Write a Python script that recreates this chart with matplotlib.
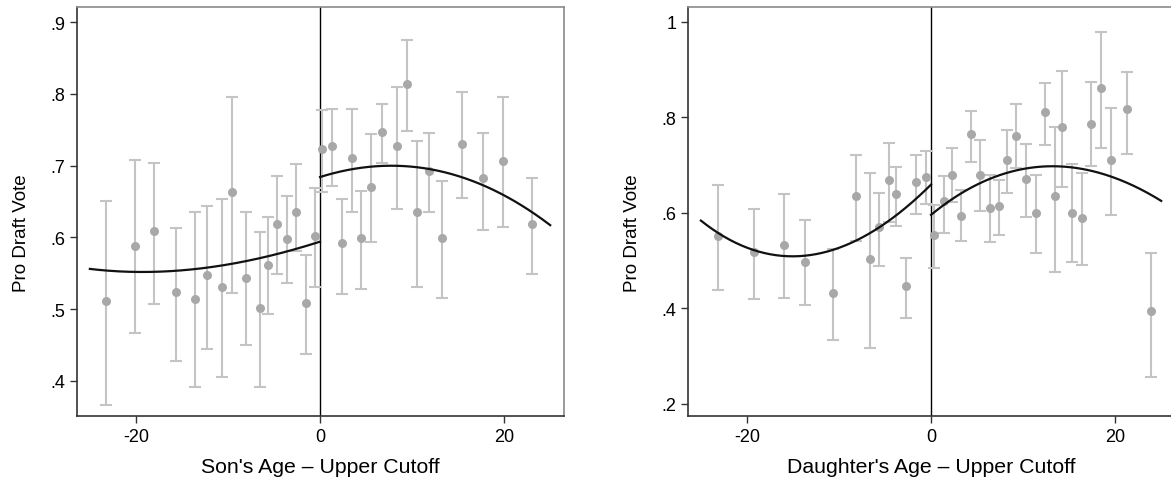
import matplotlib
matplotlib.use("Agg")
import matplotlib.pyplot as plt
import numpy as np

# Hijos: edad relativa al corte, voto medio e intervalo
edad_hijo = [-23.2, -20.1, -18.0, -15.65, -13.55, -12.28, -10.7, -9.6, -8.04, -6.5, -5.7,
             -4.7, -3.6, -2.6, -1.56, -0.54, 0.25, 1.34, 2.36, 3.44, 4.46, 5.51, 6.78,
             8.4, 9.42, 10.5, 11.8, 13.3, 15.4, 17.75, 19.85, 23.0]
voto_hijo = [0.511, 0.588, 0.609, 0.524, 0.514, 0.548, 0.531, 0.663, 0.544, 0.501, 0.562,
             0.619, 0.598, 0.636, 0.508, 0.602, 0.723, 0.727, 0.592, 0.710, 0.599, 0.670,
             0.747, 0.727, 0.814, 0.636, 0.693, 0.599, 0.730, 0.683, 0.706, 0.619]
inf_hijo = [0.366, 0.467, 0.507, 0.428, 0.392, 0.444, 0.406, 0.523, 0.450, 0.391, 0.493,
            0.549, 0.536, 0.581, 0.437, 0.531, 0.663, 0.672, 0.521, 0.635, 0.528, 0.593,
            0.704, 0.639, 0.748, 0.531, 0.636, 0.516, 0.655, 0.610, 0.615, 0.549]
sup_hijo = [0.651, 0.708, 0.704, 0.613, 0.636, 0.644, 0.654, 0.796, 0.636, 0.607, 0.628,
            0.686, 0.658, 0.702, 0.576, 0.669, 0.777, 0.779, 0.654, 0.779, 0.665, 0.744,
            0.786, 0.810, 0.875, 0.734, 0.745, 0.679, 0.802, 0.746, 0.796, 0.683]

# Hijas
edad_hija = [-23.1, -19.2, -16.0, -13.7, -10.6, -8.2, -6.6, -5.6, -4.56, -3.76, -2.68, -1.66,
             -0.58, 0.37, 1.41, 2.25, 3.26, 4.32, 5.37, 6.42, 7.43, 8.23, 9.28, 10.3, 11.35,
             12.4, 13.45, 14.25, 15.3, 16.35, 17.4, 18.45, 19.5, 21.3, 23.9]
voto_hija = [0.552, 0.517, 0.532, 0.497, 0.432, 0.634, 0.503, 0.569, 0.668, 0.639, 0.447, 0.664,
             0.674, 0.553, 0.625, 0.680, 0.594, 0.765, 0.680, 0.609, 0.614, 0.710, 0.760, 0.670,
             0.599, 0.811, 0.634, 0.780, 0.599, 0.589, 0.786, 0.861, 0.710, 0.817, 0.393]
inf_hija = [0.438, 0.419, 0.421, 0.407, 0.334, 0.540, 0.317, 0.489, 0.580, 0.573, 0.379, 0.597,
            0.618, 0.484, 0.557, 0.622, 0.540, 0.707, 0.603, 0.538, 0.553, 0.641, 0.693, 0.590,
            0.516, 0.742, 0.476, 0.654, 0.496, 0.490, 0.698, 0.735, 0.595, 0.724, 0.256]
sup_hija = [0.659, 0.608, 0.640, 0.585, 0.524, 0.721, 0.683, 0.642, 0.746, 0.696, 0.505, 0.720,
            0.729, 0.617, 0.677, 0.735, 0.648, 0.813, 0.752, 0.680, 0.669, 0.773, 0.827, 0.743,
            0.678, 0.872, 0.780, 0.897, 0.702, 0.684, 0.874, 0.979, 0.819, 0.895, 0.516]

# Curvas ajustadas a cada lado del corte (valores de la curva)
ajuste_hijo_izq = ([-25, -20.65, -15.2, -10.9, -5.8, 0],
                   [0.556, 0.552, 0.5536, 0.5606, 0.573, 0.594])
ajuste_hijo_der = ([0, 8.7, 11.8, 15.4, 17.75, 20.3, 23.2, 25],
                   [0.684, 0.700, 0.694, 0.685, 0.673, 0.655, 0.634, 0.617])
ajuste_hija_izq = ([-25, -19.35, -16.1, -13.5, -10.3, -5.9, -3.0, 0],
                   [0.583, 0.524, 0.509, 0.509, 0.524, 0.566, 0.608, 0.658])
ajuste_hija_der = ([0, 3.1, 5.3, 8.2, 11.8, 14.0, 17.6, 20.15, 22.7, 25],
                   [0.597, 0.634, 0.664, 0.685, 0.695, 0.697, 0.688, 0.670, 0.650, 0.625])

plt.rcParams['font.family'] = ['Liberation Sans', 'DejaVu Sans']

fig = plt.figure(figsize=(11.71, 4.89), dpi=100)
ax1 = fig.add_axes([77 / 1171, 72 / 489, 487 / 1171, 409 / 489])
ax2 = fig.add_axes([688 / 1171, 72 / 489, 487 / 1171, 409 / 489])


def dibujar_panel(ax, x, y, inf, sup, ajustes, xlabel, ylim, yticks, yticklabels):
    y = np.array(y)
    err = [y - np.array(inf), np.array(sup) - y]
    ax.errorbar(x, y, yerr=err, fmt='none', ecolor='#c4c4c4', elinewidth=1.5,
                capsize=4, capthick=1.5, zorder=2)
    ax.plot(x, y, 'o', color='#a8a8a8', markersize=6.5, markeredgewidth=0, zorder=3)
    for xs, ys in ajustes:
        coef = np.polyfit(xs, ys, 3)
        xx = np.linspace(min(xs), max(xs), 200)
        ax.plot(xx, np.polyval(coef, xx), color='#111111', lw=1.6, zorder=4)
    ax.axvline(0, color='black', lw=1.0, zorder=1)
    ax.set_xlim(-26.4, 26.5)
    ax.set_ylim(*ylim)
    ax.set_xticks([-20, 0, 20])
    ax.set_xticklabels(['-20', '0', '20'])
    ax.set_yticks(yticks)
    ax.set_yticklabels(yticklabels)
    ax.set_xlabel(xlabel, fontsize=15.3)
    ax.set_ylabel('Pro Draft Vote', fontsize=13.5)
    ax.xaxis.set_label_coords(0.5, -0.10)
    ax.yaxis.set_label_coords(-0.097, 0.45)
    ax.tick_params(labelsize=13, length=5, width=1, color='#333333', direction='out')
    for lado in ['left', 'bottom']:
        ax.spines[lado].set_color('#333333')
        ax.spines[lado].set_linewidth(1.2)
    for lado in ['top', 'right']:
        ax.spines[lado].set_color('#8a8a8a')
        ax.spines[lado].set_linewidth(1.2)


dibujar_panel(ax1, edad_hijo, voto_hijo, inf_hijo, sup_hijo,
              [ajuste_hijo_izq, ajuste_hijo_der], "Son's Age \u2013 Upper Cutoff",
              (0.351, 0.921), [0.4, 0.5, 0.6, 0.7, 0.8, 0.9], ['.4', '.5', '.6', '.7', '.8', '.9'])
dibujar_panel(ax2, edad_hija, voto_hija, inf_hija, sup_hija,
              [ajuste_hija_izq, ajuste_hija_der], "Daughter's Age \u2013 Upper Cutoff",
              (0.174, 1.031), [0.2, 0.4, 0.6, 0.8, 1.0], ['.2', '.4', '.6', '.8', '1'])

fig.savefig('out.png', dpi=100)
